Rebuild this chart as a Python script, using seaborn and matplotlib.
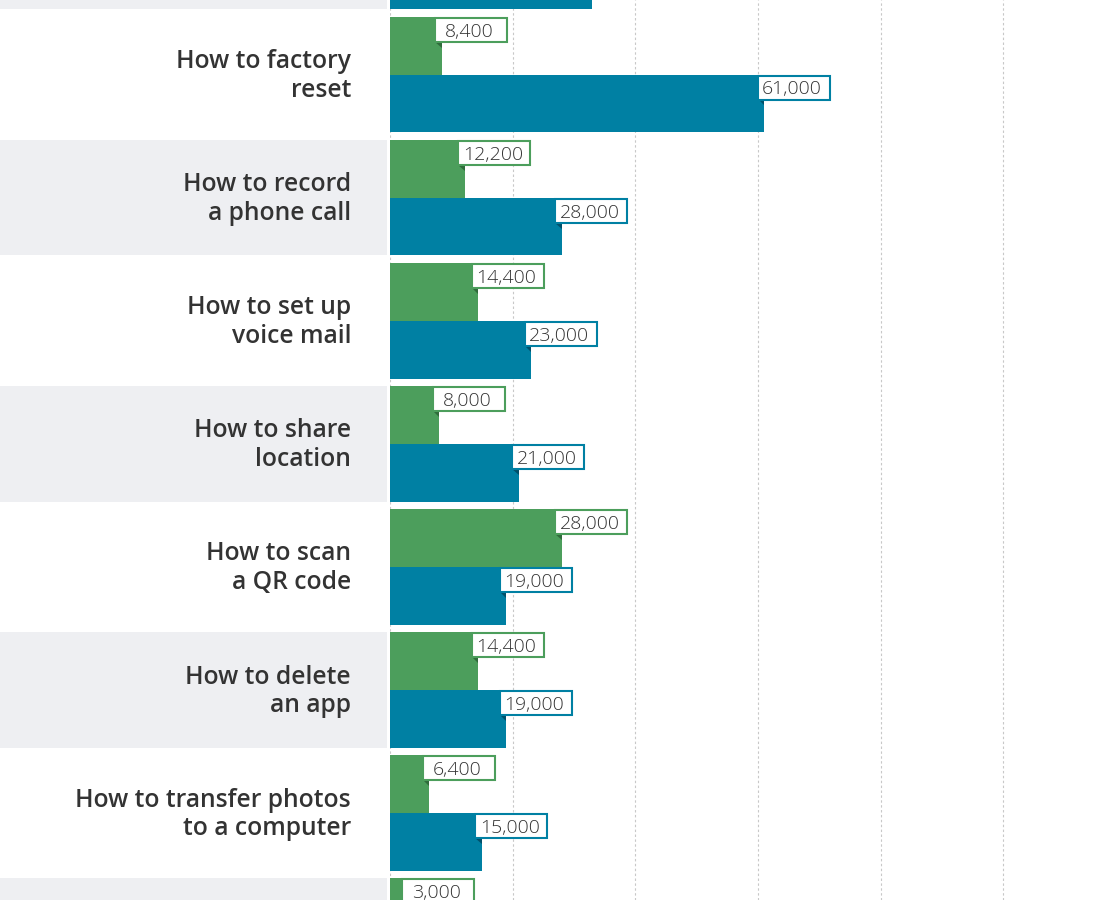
"""
Grouped horizontal bars: monthly searches per "how to" question,
two series (green and blue) with boxed value labels.
"""
import matplotlib

matplotlib.use("Agg")
import matplotlib.pyplot as plt
import pandas as pd
import seaborn as sns
from matplotlib.patches import Polygon, Rectangle
from matplotlib.transforms import blended_transform_factory

# Rows in drawing order; the first and last rows are cut by the frame
queries = [
    "(row above view)",
    "How to factory\nreset",
    "How to record\na phone call",
    "How to set up\nvoice mail",
    "How to share\nlocation",
    "How to scan\na QR code",
    "How to delete\nan app",
    "How to transfer photos\nto a computer",
    "(row below view)",
]
green_values = [20000, 8400, 12200, 14400, 8000, 28000, 14400, 6400, 3000]
blue_values = [33000, 61000, 28000, 23000, 21000, 19000, 19000, 15000, 10000]
series_names = ["series_green", "series_blue"]

GREEN = "#4c9e5c"
BLUE = "#0080a3"
GREEN_DARK = "#2f6b3b"
BLUE_DARK = "#00506a"
BAND = "#eeeff2"
TEXT = "#333333"

W_PX, H_PX = 1108, 900
AX_LEFT_PX = 390
ROW_PX = 123.1
FIRST_ROW_CENTER_PX = 74.5 - ROW_PX
XMAX = 117100
BAR_WIDTH = 0.94

dataf = pd.DataFrame(
    {
        "query": queries * 2,
        "searches": green_values + blue_values,
        "series": [series_names[0]] * len(queries) + [series_names[1]] * len(queries),
    }
)

sns.set_theme(style="white")
plt.rcParams["font.family"] = ["Open Sans", "DejaVu Sans"]

fig = plt.figure(figsize=(W_PX / 100, H_PX / 100), dpi=100)
ax = fig.add_axes([AX_LEFT_PX / W_PX, 0, 1 - AX_LEFT_PX / W_PX, 1])

sns.barplot(
    data=dataf,
    y="query",
    x="searches",
    hue="series",
    hue_order=series_names,
    order=queries,
    orient="h",
    palette=[GREEN, BLUE],
    saturation=1,
    width=BAR_WIDTH,
    linewidth=0,
    legend=False,
    ax=ax,
    zorder=2,
)

y_top = -FIRST_ROW_CENTER_PX / ROW_PX
y_bottom = y_top + H_PX / ROW_PX
ax.set_xlim(0, XMAX)
ax.set_ylim(y_bottom, y_top)

# data units per pixel
ux = XMAX / (W_PX - AX_LEFT_PX)
uy = 1 / ROW_PX

ax.set_xticks(range(0, XMAX, 20000))
ax.xaxis.grid(True, linestyle=(0, (2.2, 2.2)), color="#c8c8c8", linewidth=0.8)
ax.yaxis.grid(False)
ax.set_axisbelow(True)
ax.tick_params(axis="x", length=0, labelbottom=False)
ax.tick_params(axis="y", length=0, labelleft=False)
ax.set_xlabel("")
ax.set_ylabel("")
sns.despine(ax=ax, left=True, bottom=True)

label_trans = blended_transform_factory(ax.transAxes, ax.transData)
ax_w_px = W_PX - AX_LEFT_PX


def in_view(y0, y1):
    return y1 > y_top and y0 < y_bottom


# question labels and grey bands behind every other one
for i, q in enumerate(queries):
    if i % 2 == 0:
        ax.add_patch(
            Rectangle(
                (-AX_LEFT_PX / ax_w_px, i - BAR_WIDTH / 2),
                (AX_LEFT_PX - 3) / ax_w_px,
                BAR_WIDTH,
                transform=label_trans,
                facecolor=BAND,
                edgecolor="none",
                clip_on=False,
                zorder=0,
            )
        )
    if not y_top < i < y_bottom:
        continue
    ax.text(
        -39 / ax_w_px,
        i - 3.5 * uy,
        q,
        transform=label_trans,
        ha="right",
        va="center_baseline",
        multialignment="right",
        fontsize=17.7,
        fontweight="semibold",
        color=TEXT,
        clip_on=False,
    )

# boxed value labels with a small fold under the left corner
quarter = BAR_WIDTH / 4
for values, offset, color, dark in [
    (green_values, -quarter, GREEN, GREEN_DARK),
    (blue_values, quarter, BLUE, BLUE_DARK),
]:
    for i, v in enumerate(values):
        bar_top = i + offset - quarter
        box_x = v - 6.5 * ux
        box_y = bar_top + 1 * uy
        box_w, box_h = 72 * ux, 24 * uy
        if not in_view(box_y, box_y + box_h):
            continue
        ax.add_patch(
            Rectangle(
                (box_x, box_y),
                box_w,
                box_h,
                facecolor="white",
                edgecolor=color,
                linewidth=1.5,
                zorder=4,
                clip_on=False,
            )
        )
        ax.add_patch(
            Polygon(
                [
                    (box_x, box_y + box_h),
                    (v, box_y + box_h),
                    (v, box_y + box_h + 6 * uy),
                ],
                closed=True,
                facecolor=dark,
                edgecolor="none",
                zorder=3,
            )
        )
        ax.text(
            box_x + box_w / 2 - 1.5 * ux,
            box_y + box_h / 2 + 2 * uy,
            f"{v:,}",
            ha="center",
            va="center",
            fontsize=14,
            fontweight="light",
            color=TEXT,
            zorder=5,
        )

fig.savefig("out.png", dpi=100, facecolor="white")
